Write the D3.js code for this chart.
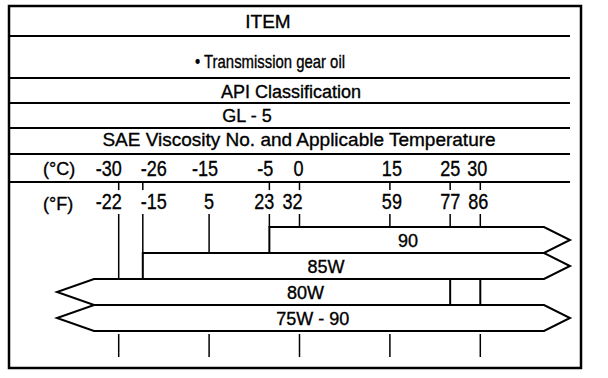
<!DOCTYPE html>
<html><head><meta charset="utf-8">
<script src="https://cdn.jsdelivr.net/npm/d3@7/dist/d3.min.js"></script>
<style>
html,body{margin:0;padding:0;background:#fff;}
svg{display:block;}
text{font-family:"Liberation Sans", Arial, Helvetica, sans-serif; fill:#000; stroke:#000; stroke-width:0.35px;}
</style></head><body>
<svg id="chart" width="608" height="378"></svg>
<script>
// ---------------- data ----------------
const headerRows = ["ITEM", "\u2022 Transmission gear oil", "API Classification", "GL - 5",
                    "SAE Viscosity No. and Applicable Temperature"];
const celsiusTicks    = [-30, -26, -15, -5, 0, 15, 25, 30];
const fahrenheitTicks = [-22, -15, 5, 23, 32, 59, 77, 86];
const celsiusMarked   = [-30, -26, -5, 0, 15, 25, 30];   // short tick marks under the °C row
const bottomTicks     = [-30, -15, 0, 15, 30];           // ticks under the last bar
const gradeNames   = ["90", "85W", "80W", "75W - 90"];
const gradeFrom    = [-5, -26, null, null];   // null = open (arrow) toward cold side
const gradeTo      = [null, null, 30, null];  // null = open (arrow) toward hot side
const gradeDivider = [null, null, 25, null];  // extra boundary inside a bar

// ---------------- layout ----------------
const frame = {left: 9, right: 581, top: 6, bottom: 368};
const ruleRight = 570;
const ruleYs = [36, 78, 103, 128, 154, 182];
const headerStyle = [
  {x: 268, y: 28, size: 19, anchor: "middle"},
  {x: 195, y: 68, size: 18.5, anchor: "start", length: 150},
  {x: 291, y: 98, size: 18, anchor: "middle"},
  {x: 247, y: 122, size: 18, anchor: "middle"},
  {x: 299, y: 146, size: 19, anchor: "middle"}
];
const cLabelDx = [-10, 11, -4, -4, -1, 2, 0, -3];
const fLabelDx = [-10, 11, 0, -5, -7, 2, 0, -2];
const labelAtC = [18, 4.4, 1, 2.2];   // where bar labels sit (°C)
const tipLeft = 57, tipRight = 570, headLeft = 37, headRight = 26;

const svg = d3.select("#chart");
svg.append("rect").attr("width", 608).attr("height", 378).attr("fill", "#fff");

const x = d3.scaleLinear().domain([-30, 30]).range([118.7, 480.3]);
const yBar = d3.scaleBand().domain(gradeNames).range([227, 331]).padding(0);

function condense(sel, k) {
  sel.each(function() {
    const w = this.getComputedTextLength();
    d3.select(this).attr("textLength", w * k).attr("lengthAdjust", "spacingAndGlyphs");
  });
}

// outer frame
svg.append("rect")
  .attr("x", frame.left).attr("y", frame.top)
  .attr("width", frame.right - frame.left).attr("height", frame.bottom - frame.top)
  .attr("fill", "none").attr("stroke", "#000").attr("stroke-width", 2.5);

// horizontal rules
svg.selectAll("line.rule").data(ruleYs).join("line")
  .attr("class", "rule")
  .attr("x1", frame.left).attr("x2", ruleRight)
  .attr("y1", d => d).attr("y2", d => d)
  .attr("stroke", "#000").attr("stroke-width", 2);

// header texts
svg.selectAll("text.head").data(headerRows).join("text")
  .attr("class", "head")
  .attr("x", (d, i) => headerStyle[i].x)
  .attr("y", (d, i) => headerStyle[i].y)
  .attr("font-size", (d, i) => headerStyle[i].size)
  .attr("text-anchor", (d, i) => headerStyle[i].anchor)
  .each(function(d, i) {
    if (headerStyle[i].length) d3.select(this).attr("textLength", headerStyle[i].length).attr("lengthAdjust", "spacingAndGlyphs");
  })
  .text(d => d);

// unit labels
svg.append("text").attr("x", 43).attr("y", 175).attr("font-size", 18).text("(\u00B0C)");
svg.append("text").attr("x", 43).attr("y", 210).attr("font-size", 18).text("(\u00B0F)");

// °C labels
const cLab = svg.selectAll("text.cl").data(celsiusTicks).join("text")
  .attr("class", "cl")
  .attr("x", (d, i) => x(d) + cLabelDx[i]).attr("y", 176)
  .attr("font-size", 22).attr("text-anchor", "middle")
  .text(d => String(d));
condense(cLab, 0.82);

// °F labels
const fLab = svg.selectAll("text.fl").data(fahrenheitTicks).join("text")
  .attr("class", "fl")
  .attr("x", (d, i) => x(celsiusTicks[i]) + fLabelDx[i]).attr("y", 209)
  .attr("font-size", 22).attr("text-anchor", "middle")
  .text(d => String(d));
condense(fLab, 0.82);

// short ticks under °C row
svg.selectAll("line.ct").data(celsiusMarked).join("line")
  .attr("class", "ct")
  .attr("x1", d => x(d)).attr("x2", d => x(d))
  .attr("y1", 182).attr("y2", 190)
  .attr("stroke", "#000").attr("stroke-width", 1.5);

// bar geometry
const bars = gradeNames.map((name, i) => {
  const x0 = gradeFrom[i] == null ? tipLeft + headLeft : x(gradeFrom[i]);
  const x1 = gradeTo[i] == null ? tipRight - headRight : x(gradeTo[i]);
  const top = yBar(name), bot = top + yBar.bandwidth(), mid = (top + bot) / 2;
  const spanL = gradeFrom[i] == null ? tipLeft : x0;
  const spanR = gradeTo[i] == null ? tipRight : x1;
  let p = `M${x0},${top} L${x1},${top}`;
  if (gradeTo[i] == null) p += ` L${tipRight},${mid} L${x1},${bot}`; else p += ` L${x1},${bot}`;
  p += ` L${x0},${bot}`;
  if (gradeFrom[i] == null) p += ` L${tipLeft},${mid}`;
  p += " Z";
  return {name, i, top, bot, mid, path: p, spanL, spanR};
});

// guide lines from °F labels down to the first bar that covers them
svg.selectAll("line.guide").data(celsiusTicks).join("line")
  .attr("class", "guide")
  .attr("x1", d => x(d)).attr("x2", d => x(d))
  .attr("y1", 214)
  .attr("y2", d => {
    const b = bars.find(b => x(d) >= b.spanL - 0.5 && x(d) <= b.spanR);
    return b ? b.top : 331;
  })
  .attr("stroke", "#000").attr("stroke-width", 1.5);

// bars
svg.selectAll("path.bar").data(bars).join("path")
  .attr("class", "bar")
  .attr("d", d => d.path)
  .attr("fill", "#fff").attr("stroke", "#000").attr("stroke-width", 2)
  .attr("stroke-linejoin", "miter");

// dividers inside bars
svg.selectAll("line.div").data(bars.filter(b => gradeDivider[b.i] != null)).join("line")
  .attr("class", "div")
  .attr("x1", d => x(gradeDivider[d.i])).attr("x2", d => x(gradeDivider[d.i]))
  .attr("y1", d => d.top).attr("y2", d => d.bot)
  .attr("stroke", "#000").attr("stroke-width", 2);

// bar labels
svg.selectAll("text.bl").data(bars).join("text")
  .attr("class", "bl")
  .attr("x", d => x(labelAtC[d.i])).attr("y", d => d.mid + 6.5)
  .attr("font-size", 18).attr("text-anchor", "middle")
  .text(d => d.name);

// ticks under the last bar
svg.selectAll("line.bt").data(bottomTicks).join("line")
  .attr("class", "bt")
  .attr("x1", d => x(d)).attr("x2", d => x(d))
  .attr("y1", 334).attr("y2", 357)
  .attr("stroke", "#000").attr("stroke-width", 1.5);
</script>
</body></html>
